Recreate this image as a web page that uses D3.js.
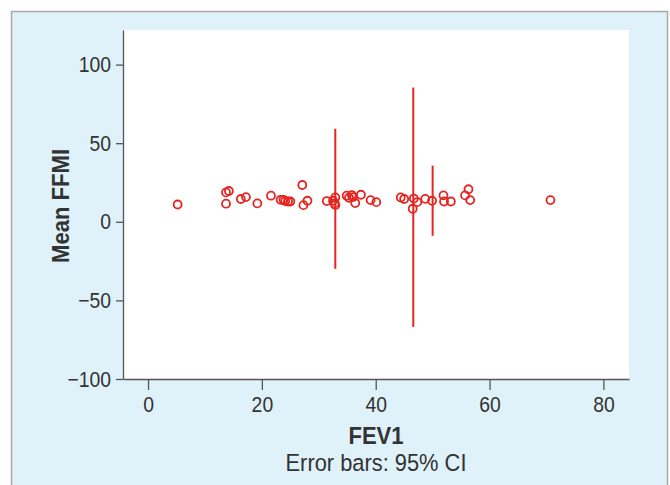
<!DOCTYPE html>
<html lang="en">
<head>
  <meta charset="UTF-8"/>
  <title>Mean FFMI vs FEV1</title>
  <style>
    *{margin:0;padding:0;box-sizing:border-box}
    body{background:#fff;font-family:"Liberation Sans",Arial,sans-serif}
    #chart{width:670px;height:485px}
    .tick text{fill:#333;font-size:22px}
    .tick line,.domain{stroke:#555}
  </style>
</head>
<body>
  <div id="chart"></div>

  <script src="https://d3js.org/d3.v7.min.js"></script>
  <script>
    // FEV1 vs mean FFMI, one point per study
    const fev1 = [5.2, 13.7, 14.2, 13.7, 16.3, 17.2, 19.2, 21.6, 23.3, 23.8, 24.1, 24.6, 25.0,
                  27.1, 27.3, 28.0, 31.4, 32.5, 32.9, 32.8, 32.9, 34.9, 35.3, 35.8, 36.0, 36.4,
                  37.4, 39.1, 40.1, 44.4, 45.0, 46.7, 46.5, 47.3, 48.7, 49.9, 51.9, 52.0, 53.2,
                  55.7, 56.3, 56.6, 70.7];
    const ffmi = [11.0, 18.7, 19.6, 11.5, 14.5, 15.7, 11.7, 16.6, 14.0, 14.0, 13.2, 12.9, 12.9,
                  23.4, 10.6, 13.4, 13.2, 13.4, 15.5, 11.7, 10.6, 16.6, 15.3, 17.0, 15.7, 11.9,
                  17.2, 13.8, 12.5, 15.5, 14.5, 14.8, 8.3, 12.5, 14.6, 13.4, 16.8, 12.9, 12.9,
                  16.8, 20.7, 13.8, 13.8];

    // 95% CI bars
    const ciFev1 = [32.9, 46.6, 50.0];
    const ciLow  = [-29.9, -66.9, -8.9];
    const ciHigh = [59.2, 85.4, 35.7];

    const xTicks = [0, 20, 40, 60, 80];
    const yTicks = [-100, -50, 0, 50, 100];

    const width = 670, height = 485;
    const red = '#e52520';
    const squeeze = 0.88;   // the original type is a bit condensed

    const svg = d3.select('#chart').append('svg')
      .attr('width', width).attr('height', height);

    // panel background
    svg.append('rect')
      .attr('x', 11.5).attr('y', 11.5)
      .attr('width', 656).attr('height', 490)
      .attr('fill', '#dff2fa').attr('stroke', '#a9a9a9').attr('stroke-width', 1.5);

    const x = d3.scaleLinear().domain([-4.4, 84.5]).range([123, 629]);
    const y = d3.scaleLinear().domain([-100, 122]).range([379, 30]);

    svg.append('rect')
      .attr('x', x.range()[0]).attr('y', y.range()[1])
      .attr('width', x.range()[1] - x.range()[0])
      .attr('height', y.range()[0] - y.range()[1])
      .attr('fill', '#fff');

    const gx = svg.append('g')
      .attr('transform', `translate(0,${y.range()[0]})`)
      .call(d3.axisBottom(x).tickValues(xTicks).tickSize(11).tickPadding(6).tickSizeOuter(0));

    const gy = svg.append('g')
      .attr('transform', `translate(${x.range()[0]},0)`)
      .call(d3.axisLeft(y).tickValues(yTicks).tickSize(7).tickPadding(5).tickSizeOuter(0)
        .tickFormat(d => d < 0 ? '\u2212' + Math.abs(d) : d));

    gx.selectAll('.tick text').attr('transform', `scale(${squeeze},1)`);
    gy.selectAll('.tick text')
      .attr('x', -12 / squeeze)
      .attr('transform', `scale(${squeeze},1)`);

    gx.select('.domain').attr('stroke-width', 1.3);
    gy.select('.domain').attr('stroke-width', 1.3);
    svg.selectAll('.tick line').attr('stroke-width', 1.3);

    // error bars
    svg.append('g').selectAll('line')
      .data(ciFev1)
      .join('line')
      .attr('x1', d => x(d)).attr('x2', d => x(d))
      .attr('y1', (d, i) => y(ciLow[i])).attr('y2', (d, i) => y(ciHigh[i]))
      .attr('stroke', red).attr('stroke-width', 2);

    // points
    svg.append('g').selectAll('circle')
      .data(fev1)
      .join('circle')
      .attr('cx', d => x(d))
      .attr('cy', (d, i) => y(ffmi[i]))
      .attr('r', 4)
      .attr('fill', 'none')
      .attr('stroke', red).attr('stroke-width', 1.8);

    // axis titles
    svg.append('text')
      .attr('transform', 'translate(376,444) scale(0.92,1)')
      .attr('text-anchor', 'middle')
      .attr('font-size', 24).attr('font-weight', 'bold').attr('fill', '#333')
      .text('FEV1');

    svg.append('text')
      .attr('transform', 'translate(376,471) scale(0.93,1)')
      .attr('text-anchor', 'middle')
      .attr('font-size', 23.5).attr('fill', '#333')
      .text('Error bars: 95% CI');

    svg.append('text')
      .attr('transform', 'translate(69,206) rotate(-90) scale(0.92,1)')
      .attr('text-anchor', 'middle')
      .attr('font-size', 24).attr('font-weight', 'bold').attr('fill', '#333')
      .text('Mean FFMI');
  </script>
</body>
</html>
